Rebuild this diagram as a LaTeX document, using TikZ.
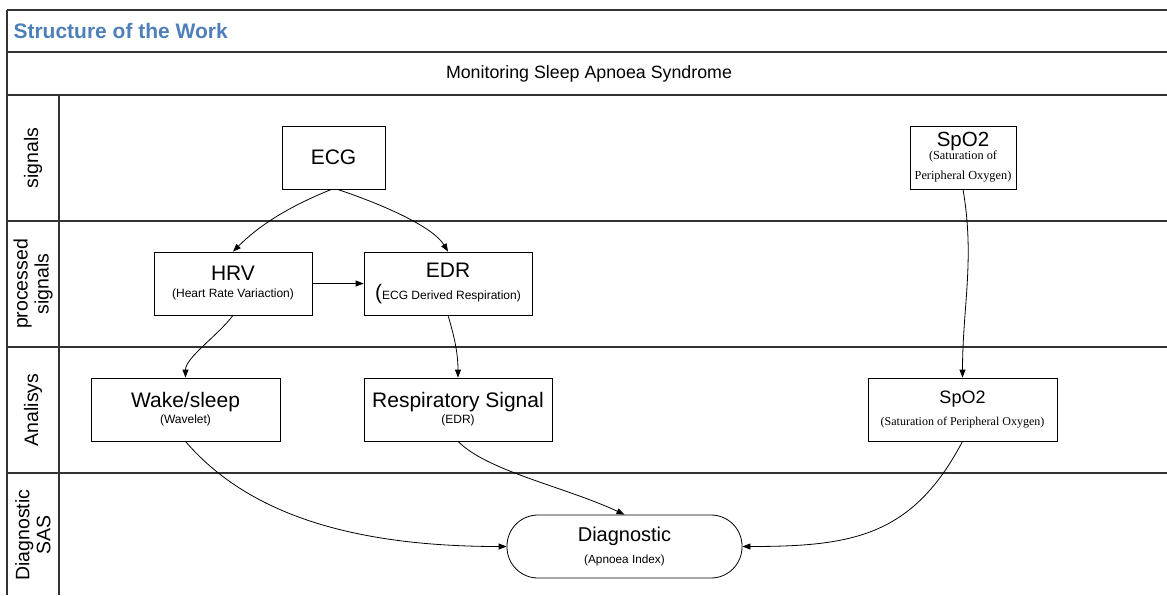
\documentclass[tikz,border=0pt]{standalone}
\usepackage{fontspec}
\setmainfont{Liberation Sans}
\newfontfamily\serifnote{Liberation Serif}
\usetikzlibrary{arrows.meta}
\definecolor{titleblue}{HTML}{4F7FB8}
\definecolor{frame}{HTML}{333333}
\begin{document}
\begin{tikzpicture}[x=1pt,y=-1pt,
  box/.style={draw=black,line width=0.8pt,fill=white,align=center,inner sep=2pt,minimum height=63pt},
  big/.style={font=\fontsize{21}{22}\selectfont},
  conn/.style={draw=black,line width=0.8pt,-{Triangle[length=8pt,width=6pt]}},
  lane/.style={rotate=90,align=center,font=\fontsize{19.5}{21}\selectfont},
  gridline/.style={draw=frame,line width=1.3pt}]
\useasboundingbox (0,0) rectangle (1167,595);
% frame
\draw[gridline] (7,10) -- (1167,10);
\draw[gridline] (7,52) -- (1167,52);
\draw[gridline] (7,95) -- (1167,95);
\draw[gridline] (7,221) -- (1167,221);
\draw[gridline] (7,347) -- (1167,347);
\draw[gridline] (7,473) -- (1167,473);
\draw[gridline] (7,10) -- (7,595);
\draw[gridline] (59,95) -- (59,595);
\node[anchor=west,text=titleblue,font=\bfseries\fontsize{21}{22}\selectfont] (title) at (10,31) {Structure of the Work};
\node[font=\fontsize{17.8}{18}\selectfont] (header) at (589,74) {Monitoring Sleep Apnoea Syndrome};
\node[lane] (l1) at (33,158) {signals};
\node[lane] (l2) at (33,284) {processed\\signals};
\node[lane] (l3) at (33,410) {Analisys};
\node[lane] (l4) at (33,535) {Diagnostic\\SAS};
% nodes
\node[box,minimum width=103pt,big] (ecg) at (333.5,157.5) {ECG};
\node[box,minimum width=106pt,inner sep=1pt] (spo2a) at (963,157.5) {{\fontsize{20.5}{20}\selectfont SpO2}\\[-1pt]{\serifnote\fontsize{12.3}{12}\selectfont (Saturation of}\\[8pt]{\serifnote\fontsize{12.3}{12}\selectfont Peripheral Oxygen)}};
\node[box,minimum width=158pt] (hrv) at (233,283.5) {{\fontsize{21}{21}\selectfont HRV}\\[5pt]{\fontsize{12}{12}\selectfont (Heart Rate Variaction)}};
\node[box,minimum width=168pt] (edr) at (448,283.5) {{\fontsize{21}{21}\selectfont EDR}\\[5pt]{\fontsize{21}{21}\selectfont (}{\fontsize{12}{12}\selectfont ECG Derived Respiration)}};
\node[box,minimum width=189pt] (wake) at (185.5,409.5) {{\fontsize{21}{21}\selectfont Wake/sleep}\\[2pt]{\fontsize{12}{12}\selectfont (Wavelet)}};
\node[box,minimum width=188pt] (resp) at (458,409.5) {{\fontsize{21}{21}\selectfont Respiratory Signal}\\[2pt]{\fontsize{12}{12}\selectfont (EDR)}};
\node[box,minimum width=189pt] (spo2b) at (962.5,409.5) {{\fontsize{18}{18}\selectfont SpO2}\\[9pt]{\serifnote\fontsize{12}{12}\selectfont (Saturation of Peripheral Oxygen)}};
\node[box,minimum width=235pt,rounded corners=31pt] (diag) at (624.5,546.5) {{\fontsize{20}{20}\selectfont Diagnostic}\\[9pt]{\fontsize{11.8}{12}\selectfont (Apnoea Index)}};
% connectors
\draw[conn] ([xshift=-2pt]ecg.south) .. controls +(-45,18) and +(25,-25) .. (hrv.north);
\draw[conn] ([xshift=4pt]ecg.south) .. controls +(45,15) and +(-15,-25) .. (edr.north);
\draw[conn] (hrv.east) -- (edr.west);
\draw[conn] (hrv.south) .. controls +(-15,20) and +(0,-20) .. (wake.north);
\draw[conn] (edr.south) .. controls +(6,20) and +(0,-25) .. (resp.north);
\draw[conn] (spo2a.south) .. controls +(12,70) and +(0,-70) .. (spo2b.north);
\draw[conn] (wake.south) .. controls +(60,70) and +(-160,0) .. (diag.west);
\draw[conn] (resp.south) .. controls +(30,30) and +(-60,-28) .. (diag.north);
\draw[conn] (spo2b.south) .. controls +(-50,95) and +(110,0) .. (diag.east);
\end{tikzpicture}
\end{document}
